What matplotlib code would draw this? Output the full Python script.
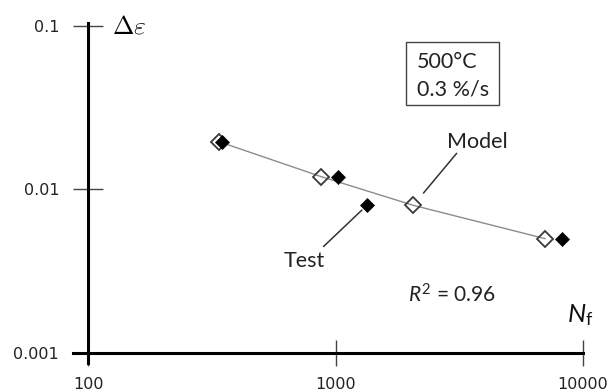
import matplotlib
matplotlib.use("Agg")
import matplotlib.pyplot as plt
from matplotlib.patches import Rectangle
from matplotlib.ticker import NullLocator

# cycles to failure vs. total strain range, 500 C / 0.3 %/s
n_test = [347, 1020, 1340, 8220]
n_model = [339, 874, 2063, 7040]
strain_range = [0.0196, 0.0120, 0.0080, 0.0050]

x_ticks = [100, 1000, 10000]
x_labels = ["100", "1000", "10000"]
y_ticks = [0.001, 0.01, 0.1]
y_labels = ["0.001", "0.01", "0.1"]

W_PX, H_PX = 613, 392

plt.rcParams["mathtext.fontset"] = "custom"
plt.rcParams["mathtext.rm"] = "Lato"
plt.rcParams["mathtext.it"] = "Lato:italic"


def fig_xy(x, y):
    # pixel position (top-left origin) -> figure fraction
    return x / W_PX, 1 - y / H_PX


fig = plt.figure(figsize=(W_PX / 100, H_PX / 100), dpi=100)
left, top = fig_xy(72.7, 22.7)
right, bottom = fig_xy(583.3, 363.3)
ax = fig.add_axes([left, bottom, right - left, top - bottom])

ax.set_xscale("log")
ax.set_yscale("log")
ax.set_xlim(10 ** 1.9369, 10 ** 4.0024)
ax.set_ylim(10 ** -3.0650, 10 ** -0.9779)

for side in ["top", "right"]:
    ax.spines[side].set_visible(False)
ax.spines["left"].set_position(("data", 100))
ax.spines["bottom"].set_position(("data", 0.001))
for side in ["left", "bottom"]:
    ax.spines[side].set_linewidth(2.2)
    ax.spines[side].set_color("black")

ax.set_xticks(x_ticks, labels=x_labels)
ax.set_yticks(y_ticks, labels=y_labels)
ax.xaxis.set_minor_locator(NullLocator())
ax.yaxis.set_minor_locator(NullLocator())
ax.tick_params(axis="y", direction="inout", length=20.9, width=1.0,
               color="#444444", pad=10.5, labelsize=11.5, labelcolor="#222222")
ax.tick_params(axis="x", direction="inout", length=18.7, width=1.0,
               color="#444444", pad=8.5, labelsize=11.5, labelcolor="#222222")
for lab in ax.get_xticklabels() + ax.get_yticklabels():
    lab.set_fontfamily("DejaVu Sans")

# model curve with open diamonds, test results as filled diamonds
ax.plot(n_model, strain_range, color="#8c8c8c", lw=1.0, zorder=2)
ax.plot(n_model, strain_range, ls="none", marker="D", ms=8.3, mfc="none",
        mec="#3a3a3a", mew=1.3, zorder=3)
ax.plot(n_test, strain_range, ls="none", marker="D", ms=7.4, mfc="black",
        mec="black", mew=0.5, zorder=4)

# leader lines and labels
ax.annotate("", xy=(n_model[2], strain_range[2]), xytext=(43.4, 52),
            textcoords="offset pixels",
            arrowprops=dict(arrowstyle="-", color="#333333", lw=1.1,
                            shrinkA=0, shrinkB=11.5))
ax.annotate("Model", xy=(n_model[2], strain_range[2]), xytext=(33.4, 57.7),
            textcoords="offset pixels", ha="left", va="baseline",
            fontsize=15.5, family="Lato", color="#222222")
ax.annotate("", xy=(n_test[2], strain_range[2]), xytext=(-43.4, -41.2),
            textcoords="offset pixels",
            arrowprops=dict(arrowstyle="-", color="#333333", lw=1.1,
                            shrinkA=0, shrinkB=5))
ax.annotate("Test", xy=(n_test[2], strain_range[2]), xytext=(-83.4, -61.2),
            textcoords="offset pixels", ha="left", va="baseline",
            fontsize=15.5, family="Lato", color="#222222")

# axis names
fig.text(*fig_xy(112, 34), r"$\Delta\varepsilon$", fontsize=18.5,
         math_fontfamily="cm", ha="left", va="baseline")
fig.text(*fig_xy(580, 321.7), r"$N_\mathrm{f}$", fontsize=18.5,
         ha="center", va="baseline", color="#111111")

# test conditions box
bx0, by0 = fig_xy(406, 105)
bx1, by1 = fig_xy(499, 41.7)
fig.add_artist(Rectangle((bx0, by0), bx1 - bx0, by1 - by0,
                         transform=fig.transFigure, fill=False,
                         ec="#444444", lw=1.0))
fig.text(*fig_xy(417, 68), "500°C", fontsize=15.5, family="Lato",
         ha="left", va="baseline", color="#222222")
fig.text(*fig_xy(417, 95), "0.3 %/s", fontsize=15.5, family="Lato",
         ha="left", va="baseline", color="#222222")

fig.text(*fig_xy(408.3, 302.7), r"$R^2$ = 0.96", fontsize=15,
         family="Lato", ha="left", va="baseline", color="#222222")

fig.savefig("out.png", dpi=100)
